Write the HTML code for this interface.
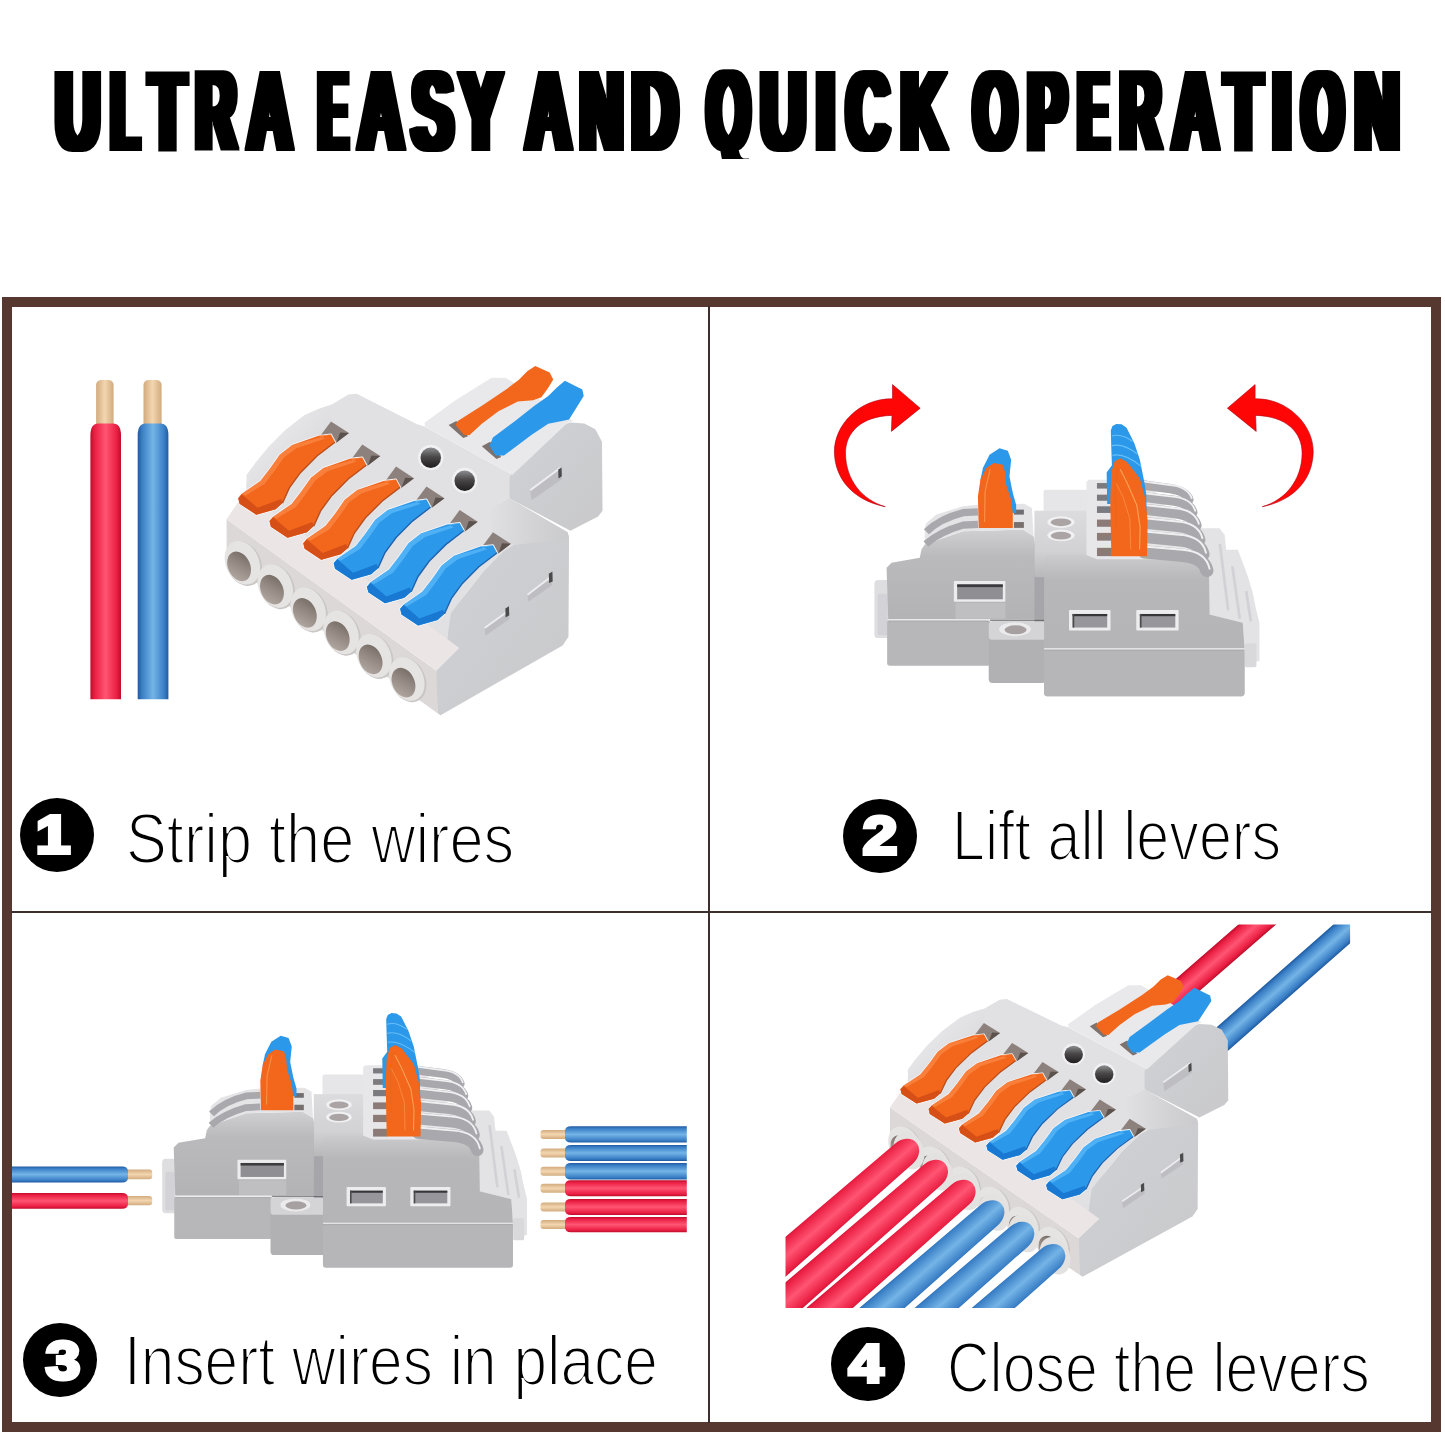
<!DOCTYPE html>
<html lang="en">
<head>
<meta charset="utf-8">
<title>Ultra easy and quick operation</title>
<style>
html,body{margin:0;padding:0;background:#fff;}
body{width:1445px;height:1445px;position:relative;overflow:hidden;font-family:"Liberation Sans",sans-serif;}
#title{position:absolute;left:0;top:0;width:1445px;height:220px;}
.frame{position:absolute;left:2px;top:297px;width:1419px;height:1115px;border:10px solid #573830;}
.vline{position:absolute;left:708px;top:306px;width:2px;height:1117px;background:#3d2f2e;}
.hline{position:absolute;left:11px;top:911px;width:1421px;height:2px;background:#3d2f2e;}
.num{position:absolute;width:74px;height:74px;border-radius:50%;background:#000;color:#fff;font-weight:bold;font-size:54px;line-height:74px;text-align:center;}
.num span{display:inline-block;position:relative;top:-1px;transform:scaleX(1.15);-webkit-text-stroke:4px #fff;}
.lbl{position:absolute;font-size:70px;line-height:70px;color:#000;white-space:nowrap;-webkit-text-stroke:2.2px #fff;transform-origin:0 0;}
#art{position:absolute;left:0;top:0;}
</style>
</head>
<body>
<svg id="art" width="1445" height="1445" viewBox="0 0 1445 1445">
<defs>
<linearGradient id="gRedV" x1="0" y1="0" x2="1" y2="0"><stop offset="0" stop-color="#bf0d2b"/><stop offset="0.14" stop-color="#ea1f43"/><stop offset="0.5" stop-color="#ff5573"/><stop offset="0.86" stop-color="#ea1f43"/><stop offset="1" stop-color="#bf0d2b"/></linearGradient>
<linearGradient id="gBlueV" x1="0" y1="0" x2="1" y2="0"><stop offset="0" stop-color="#1f5aa0"/><stop offset="0.14" stop-color="#3a7fc6"/><stop offset="0.5" stop-color="#74b4e6"/><stop offset="0.86" stop-color="#3a7fc6"/><stop offset="1" stop-color="#1f5aa0"/></linearGradient>
<linearGradient id="gCuV" x1="0" y1="0" x2="1" y2="0"><stop offset="0" stop-color="#d2ab7f"/><stop offset="0.5" stop-color="#f3d6b0"/><stop offset="1" stop-color="#d2ab7f"/></linearGradient>
<linearGradient id="gRedH" x1="0" y1="0" x2="0" y2="1"><stop offset="0" stop-color="#bf0d2b"/><stop offset="0.14" stop-color="#ea1f43"/><stop offset="0.5" stop-color="#ff5573"/><stop offset="0.86" stop-color="#ea1f43"/><stop offset="1" stop-color="#bf0d2b"/></linearGradient>
<linearGradient id="gBlueH" x1="0" y1="0" x2="0" y2="1"><stop offset="0" stop-color="#1f5aa0"/><stop offset="0.14" stop-color="#3a7fc6"/><stop offset="0.5" stop-color="#74b4e6"/><stop offset="0.86" stop-color="#3a7fc6"/><stop offset="1" stop-color="#1f5aa0"/></linearGradient>
<linearGradient id="gCuH" x1="0" y1="0" x2="0" y2="1"><stop offset="0" stop-color="#d2ab7f"/><stop offset="0.5" stop-color="#f3d6b0"/><stop offset="1" stop-color="#d2ab7f"/></linearGradient>
<linearGradient id="gWall" x1="0" y1="0" x2="1" y2="1"><stop offset="0" stop-color="#f0f0f2"/><stop offset="1" stop-color="#d2d2d5"/></linearGradient>
<linearGradient id="gSide" x1="0" y1="0" x2="1" y2="1"><stop offset="0" stop-color="#dadadd"/><stop offset="0.3" stop-color="#cecfd2"/><stop offset="1" stop-color="#c9c9cc"/></linearGradient>
<linearGradient id="gShoulder" x1="0" y1="0" x2="1" y2="0"><stop offset="0" stop-color="#e1e1e4"/><stop offset="0.6" stop-color="#d2d2d5"/><stop offset="1" stop-color="#cbcbce"/></linearGradient>
<linearGradient id="gHole" x1="0" y1="1" x2="1" y2="0"><stop offset="0" stop-color="#b9b0a9"/><stop offset="0.6" stop-color="#8f857e"/><stop offset="1" stop-color="#6b625c"/></linearGradient>
<linearGradient id="gScrew" x1="0" y1="0" x2="0" y2="1"><stop offset="0" stop-color="#8d8d90"/><stop offset="0.45" stop-color="#4a4848"/><stop offset="1" stop-color="#1f1d1d"/></linearGradient>

<g id="connA"><polygon points="60.0,575.0 822.0,1125.0 822.0,1276.0 60.0,727.0" fill="#dbd8d7" />
<polygon points="60.0,575.0 70.0,560.0 132.0,470.0 857.0,1000.0 900.0,1040.0 818.0,1122.0" fill="#ebe5e5" />
<polygon points="818.0,1122.0 900.0,1040.0 857.0,1008.0 857.0,918.0 920.0,850.0 990.0,760.0 1060.0,690.0 1100.0,665.0 1285.0,640.0 1292.0,622.0 1297.0,640.0 1295.0,1000.0 1274.0,1031.0 833.0,1283.0 822.0,1276.0" fill="url(#gSide)" />
<polygon points="440.0,161.0 500.0,125.0 530.0,122.0 748.0,232.0 775.0,240.0 1092.0,415.0 1082.0,500.0 1292.0,622.0 1285.0,640.0 1100.0,665.0 1060.0,690.0 990.0,760.0 920.0,850.0 870.0,915.0 857.0,1008.0 132.0,480.0 132.0,442.0" fill="#e1e1e4" />
<polygon points="1000.0,545.0 1082.0,500.0 1292.0,622.0 1297.0,645.0 1100.0,668.0 1087.0,664.0 1022.0,622.0" fill="url(#gShoulder)" />
<polygon points="132.0,442.0 132.0,415.0 165.0,370.0 210.0,315.0 270.0,255.0 340.0,200.0 395.0,175.0 440.0,161.0 435.0,220.0 400.0,274.0 300.0,345.0 215.0,415.0 150.0,465.0 132.0,480.0" fill="url(#gWall)" />
<polygon points="992.0,968.0 1080.0,905.0 1082.0,936.0 995.0,996.0" fill="#bebec2" /><polyline points="992.0,968.0 1080.0,905.0" fill="none" stroke="#ededf0" stroke-width="7"/><polygon points="1067.0,898.0 1080.0,890.0 1081.0,922.0 1068.0,930.0" fill="#4b4a4c" />
<polygon points="1147.0,848.0 1232.0,783.0 1237.0,813.0 1150.0,873.0" fill="#bebec2" /><polyline points="1147.0,848.0 1232.0,783.0" fill="none" stroke="#ededf0" stroke-width="7"/><polygon points="1224.0,772.0 1237.0,764.0 1238.0,800.0 1225.0,806.0" fill="#4b4a4c" />
<ellipse cx="122.0" cy="735.5" rx="62" ry="84" transform="rotate(-24 122.0 735.5)" fill="#c9c6c4"/>
<ellipse cx="117.0" cy="732.5" rx="60" ry="82" transform="rotate(-24 117.0 732.5)" fill="#e6e4e3"/>
<ellipse cx="240.8" cy="819.5" rx="62" ry="84" transform="rotate(-24 240.8 819.5)" fill="#c9c6c4"/>
<ellipse cx="235.8" cy="816.5" rx="60" ry="82" transform="rotate(-24 235.8 816.5)" fill="#e6e4e3"/>
<ellipse cx="359.6" cy="903.5" rx="62" ry="84" transform="rotate(-24 359.6 903.5)" fill="#c9c6c4"/>
<ellipse cx="354.6" cy="900.5" rx="60" ry="82" transform="rotate(-24 354.6 900.5)" fill="#e6e4e3"/>
<ellipse cx="478.4" cy="987.5" rx="62" ry="84" transform="rotate(-24 478.4 987.5)" fill="#c9c6c4"/>
<ellipse cx="473.4" cy="984.5" rx="60" ry="82" transform="rotate(-24 473.4 984.5)" fill="#e6e4e3"/>
<ellipse cx="597.2" cy="1071.5" rx="62" ry="84" transform="rotate(-24 597.2 1071.5)" fill="#c9c6c4"/>
<ellipse cx="592.2" cy="1068.5" rx="60" ry="82" transform="rotate(-24 592.2 1068.5)" fill="#e6e4e3"/>
<ellipse cx="716.0" cy="1155.5" rx="62" ry="84" transform="rotate(-24 716.0 1155.5)" fill="#c9c6c4"/>
<ellipse cx="711.0" cy="1152.5" rx="60" ry="82" transform="rotate(-24 711.0 1152.5)" fill="#e6e4e3"/>
<ellipse cx="105.0" cy="745.5" rx="40" ry="56" transform="rotate(-24 105.0 745.5)" fill="url(#gHole)"/>
<ellipse cx="223.8" cy="829.5" rx="40" ry="56" transform="rotate(-24 223.8 829.5)" fill="url(#gHole)"/>
<ellipse cx="342.6" cy="913.5" rx="40" ry="56" transform="rotate(-24 342.6 913.5)" fill="url(#gHole)"/>
<ellipse cx="461.4" cy="997.5" rx="40" ry="56" transform="rotate(-24 461.4 997.5)" fill="url(#gHole)"/>
<ellipse cx="580.2" cy="1081.5" rx="40" ry="56" transform="rotate(-24 580.2 1081.5)" fill="url(#gHole)"/>
<ellipse cx="699.0" cy="1165.5" rx="40" ry="56" transform="rotate(-24 699.0 1165.5)" fill="url(#gHole)"/>
<polygon points="437.0,222.0 502.0,264.0 455.0,300.0 400.0,272.0" fill="#8c817c" />
<polygon points="470.0,262.0 502.0,264.0 457.0,298.0" fill="#5b514d" />
<polygon points="392.0,274.0 437.0,269.0 452.0,297.0 387.0,347.0 327.0,407.0 287.0,462.0 262.0,517.0 237.0,539.0 167.0,559.0 107.0,519.0 102.0,499.0 114.0,484.0 182.0,437.0 217.0,392.0 252.0,342.0 297.0,307.0" fill="#f2671c" stroke="#f4f4f7" stroke-width="7" stroke-linejoin="round" paint-order="stroke"/>
<polygon points="392.0,274.0 437.0,269.0 297.0,307.0 252.0,342.0 217.0,392.0 182.0,437.0 114.0,484.0 127.0,490.0 197.0,448.0 232.0,402.0 267.0,352.0 312.0,319.0 417.0,284.0" fill="#ff9455" opacity="0.55"/>
<polygon points="102.0,499.0 107.0,519.0 167.0,559.0 237.0,539.0 262.0,517.0 257.0,502.0 172.0,534.0 115.0,485.0" fill="#d64f16" />
<polyline points="452.0,297.0 387.0,347.0 327.0,407.0 287.0,462.0 262.0,517.0" fill="none" stroke="#a63c0c" stroke-width="5" opacity="0.8"/>
<polygon points="550.0,305.0 615.0,347.0 568.0,383.0 513.0,355.0" fill="#8c817c" />
<polygon points="583.0,345.0 615.0,347.0 570.0,381.0" fill="#5b514d" />
<polygon points="505.0,357.0 550.0,352.0 565.0,380.0 500.0,430.0 440.0,490.0 400.0,545.0 375.0,600.0 350.0,622.0 280.0,642.0 220.0,602.0 215.0,582.0 227.0,567.0 295.0,520.0 330.0,475.0 365.0,425.0 410.0,390.0" fill="#f2671c" stroke="#f4f4f7" stroke-width="7" stroke-linejoin="round" paint-order="stroke"/>
<polygon points="505.0,357.0 550.0,352.0 410.0,390.0 365.0,425.0 330.0,475.0 295.0,520.0 227.0,567.0 240.0,573.0 310.0,531.0 345.0,485.0 380.0,435.0 425.0,402.0 530.0,367.0" fill="#ff9455" opacity="0.55"/>
<polygon points="215.0,582.0 220.0,602.0 280.0,642.0 350.0,622.0 375.0,600.0 370.0,585.0 285.0,617.0 228.0,568.0" fill="#d64f16" />
<polyline points="565.0,380.0 500.0,430.0 440.0,490.0 400.0,545.0 375.0,600.0" fill="none" stroke="#a63c0c" stroke-width="5" opacity="0.8"/>
<polygon points="672.0,385.0 737.0,427.0 690.0,463.0 635.0,435.0" fill="#8c817c" />
<polygon points="705.0,425.0 737.0,427.0 692.0,461.0" fill="#5b514d" />
<polygon points="627.0,437.0 672.0,432.0 687.0,460.0 622.0,510.0 562.0,570.0 522.0,625.0 497.0,680.0 472.0,702.0 402.0,722.0 342.0,682.0 337.0,662.0 349.0,647.0 417.0,600.0 452.0,555.0 487.0,505.0 532.0,470.0" fill="#f2671c" stroke="#f4f4f7" stroke-width="7" stroke-linejoin="round" paint-order="stroke"/>
<polygon points="627.0,437.0 672.0,432.0 532.0,470.0 487.0,505.0 452.0,555.0 417.0,600.0 349.0,647.0 362.0,653.0 432.0,611.0 467.0,565.0 502.0,515.0 547.0,482.0 652.0,447.0" fill="#ff9455" opacity="0.55"/>
<polygon points="337.0,662.0 342.0,682.0 402.0,722.0 472.0,702.0 497.0,680.0 492.0,665.0 407.0,697.0 350.0,648.0" fill="#d64f16" />
<polyline points="687.0,460.0 622.0,510.0 562.0,570.0 522.0,625.0 497.0,680.0" fill="none" stroke="#a63c0c" stroke-width="5" opacity="0.8"/>
<polygon points="782.0,457.0 847.0,499.0 800.0,535.0 745.0,507.0" fill="#8c817c" />
<polygon points="815.0,497.0 847.0,499.0 802.0,533.0" fill="#5b514d" />
<polygon points="737.0,509.0 782.0,504.0 797.0,532.0 732.0,582.0 672.0,642.0 632.0,697.0 607.0,752.0 582.0,774.0 512.0,794.0 452.0,754.0 447.0,734.0 459.0,719.0 527.0,672.0 562.0,627.0 597.0,577.0 642.0,542.0" fill="#2c98ea" stroke="#f4f4f7" stroke-width="7" stroke-linejoin="round" paint-order="stroke"/>
<polygon points="737.0,509.0 782.0,504.0 642.0,542.0 597.0,577.0 562.0,627.0 527.0,672.0 459.0,719.0 472.0,725.0 542.0,683.0 577.0,637.0 612.0,587.0 657.0,554.0 762.0,519.0" fill="#6cc6ff" opacity="0.55"/>
<polygon points="447.0,734.0 452.0,754.0 512.0,794.0 582.0,774.0 607.0,752.0 602.0,737.0 517.0,769.0 460.0,720.0" fill="#1878d2" />
<polyline points="797.0,532.0 732.0,582.0 672.0,642.0 632.0,697.0 607.0,752.0" fill="none" stroke="#0d4c98" stroke-width="5" opacity="0.8"/>
<polygon points="902.0,542.0 967.0,584.0 920.0,620.0 865.0,592.0" fill="#8c817c" />
<polygon points="935.0,582.0 967.0,584.0 922.0,618.0" fill="#5b514d" />
<polygon points="857.0,594.0 902.0,589.0 917.0,617.0 852.0,667.0 792.0,727.0 752.0,782.0 727.0,837.0 702.0,859.0 632.0,879.0 572.0,839.0 567.0,819.0 579.0,804.0 647.0,757.0 682.0,712.0 717.0,662.0 762.0,627.0" fill="#2c98ea" stroke="#f4f4f7" stroke-width="7" stroke-linejoin="round" paint-order="stroke"/>
<polygon points="857.0,594.0 902.0,589.0 762.0,627.0 717.0,662.0 682.0,712.0 647.0,757.0 579.0,804.0 592.0,810.0 662.0,768.0 697.0,722.0 732.0,672.0 777.0,639.0 882.0,604.0" fill="#6cc6ff" opacity="0.55"/>
<polygon points="567.0,819.0 572.0,839.0 632.0,879.0 702.0,859.0 727.0,837.0 722.0,822.0 637.0,854.0 580.0,805.0" fill="#1878d2" />
<polyline points="917.0,617.0 852.0,667.0 792.0,727.0 752.0,782.0 727.0,837.0" fill="none" stroke="#0d4c98" stroke-width="5" opacity="0.8"/>
<polygon points="1022.0,622.0 1087.0,664.0 1040.0,700.0 985.0,672.0" fill="#8c817c" />
<polygon points="1055.0,662.0 1087.0,664.0 1042.0,698.0" fill="#5b514d" />
<polygon points="977.0,674.0 1022.0,669.0 1037.0,697.0 972.0,747.0 912.0,807.0 872.0,862.0 847.0,917.0 822.0,939.0 752.0,959.0 692.0,919.0 687.0,899.0 699.0,884.0 767.0,837.0 802.0,792.0 837.0,742.0 882.0,707.0" fill="#2c98ea" stroke="#f4f4f7" stroke-width="7" stroke-linejoin="round" paint-order="stroke"/>
<polygon points="977.0,674.0 1022.0,669.0 882.0,707.0 837.0,742.0 802.0,792.0 767.0,837.0 699.0,884.0 712.0,890.0 782.0,848.0 817.0,802.0 852.0,752.0 897.0,719.0 1002.0,684.0" fill="#6cc6ff" opacity="0.55"/>
<polygon points="687.0,899.0 692.0,919.0 752.0,959.0 822.0,939.0 847.0,917.0 842.0,902.0 757.0,934.0 700.0,885.0" fill="#1878d2" />
<polyline points="1037.0,697.0 972.0,747.0 912.0,807.0 872.0,862.0 847.0,917.0" fill="none" stroke="#0d4c98" stroke-width="5" opacity="0.8"/>
<polygon points="1082.0,425.0 1102.0,380.0 1147.0,320.0 1202.0,270.0 1252.0,240.0 1302.0,226.0 1352.0,229.0 1392.0,250.0 1416.0,295.0 1418.0,545.0 1402.0,565.0 1302.0,617.0 1082.0,500.0" fill="url(#gSide)" />
<polygon points="775.0,227.0 887.0,145.0 1017.0,64.0 1067.0,64.0 1102.0,85.0 1312.0,220.0 1292.0,227.0 1092.0,415.0 777.0,240.0" fill="#e9e9ec" />
<polygon points="862.0,235.0 890.0,220.0 932.0,275.0 915.0,282.0" fill="#7d726d" />
<polygon points="982.0,312.0 1012.0,295.0 1052.0,350.0 1035.0,358.0" fill="#7d726d" />
<polygon points="887.0,235.0 895.0,220.0 982.0,165.0 1072.0,105.0 1117.0,70.0 1147.0,40.0 1175.0,22.0 1227.0,45.0 1240.0,70.0 1222.0,100.0 1197.0,135.0 1167.0,145.0 1112.0,150.0 1042.0,185.0 982.0,230.0 937.0,272.0 917.0,270.0" fill="#f2671c" />
<polygon points="1010.0,310.0 1022.0,280.0 1102.0,220.0 1172.0,165.0 1222.0,130.0 1252.0,100.0 1282.0,75.0 1345.0,107.0 1350.0,130.0 1322.0,175.0 1297.0,215.0 1272.0,220.0 1222.0,230.0 1162.0,270.0 1102.0,315.0 1062.0,345.0 1032.0,345.0" fill="#2c98ea" />
<polygon points="1157.0,470.0 1265.0,390.0 1272.0,430.0 1162.0,507.0" fill="#bebec2" /><polyline points="1157.0,470.0 1265.0,390.0" fill="none" stroke="#ededf0" stroke-width="7"/><polygon points="1258.0,396.0 1270.0,388.0 1271.0,420.0 1259.0,428.0" fill="#4b4a4c" />
<circle cx="797.5" cy="352.5" r="46" fill="#f1f1f3"/><circle cx="797.5" cy="353.5" r="37" fill="url(#gScrew)"/>
<circle cx="920.0" cy="435.0" r="46" fill="#f1f1f3"/><circle cx="920.0" cy="436.0" r="37" fill="url(#gScrew)"/></g>
<linearGradient id="gB1" x1="0" y1="0" x2="0" y2="1"><stop offset="0" stop-color="#d0d0d3"/><stop offset="0.3" stop-color="#bababd"/><stop offset="1" stop-color="#b3b3b6"/></linearGradient>
<linearGradient id="gB2" x1="0" y1="0" x2="0" y2="1"><stop offset="0" stop-color="#dcdcdf"/><stop offset="0.6" stop-color="#d2d2d5"/><stop offset="1" stop-color="#b8b8bb"/></linearGradient>
<linearGradient id="gB3" x1="0" y1="0" x2="0" y2="1"><stop offset="0" stop-color="#cbcbce"/><stop offset="0.18" stop-color="#b7b7ba"/><stop offset="1" stop-color="#b3b3b6"/></linearGradient>

<g id="connB"><polygon points="1221.0,463.0 1299.0,463.0 1317.0,487.0 1323.0,541.0 1365.0,541.0 1383.0,589.0 1401.0,637.0 1419.0,697.0 1431.0,757.0 1443.0,805.0 1443.0,943.0 1395.0,955.0 1389.0,900.0 1383.0,805.0 1263.0,775.0 1240.0,700.0" fill="#e3e3e6" />
<line x1="1300" y1="520" x2="1330" y2="760" stroke="#d2d2d6" stroke-width="10"/>
<line x1="1345" y1="600" x2="1372" y2="790" stroke="#d2d2d6" stroke-width="10"/>
<line x1="1395" y1="690" x2="1412" y2="800" stroke="#d2d2d6" stroke-width="10"/>
<rect x="1390.0" y="880.0" width="42.0" height="85.0" rx="6.0" fill="#d9d9dc" />
<rect x="52.0" y="650.0" width="58.0" height="210.0" rx="14.0" fill="#dedee1" />
<rect x="64.0" y="700.0" width="36.0" height="150.0" rx="8.0" fill="#d3d3d7" />
<rect x="98.0" y="796.0" width="372.0" height="164.0" rx="10.0" fill="#b7b7ba" />
<polygon points="114.0,588.0 216.0,570.0 222.0,540.0 234.0,522.0 372.0,474.0 588.0,468.0 627.0,492.0 636.0,528.0 642.0,794.0 102.0,794.0 96.0,606.0" fill="url(#gB1)" />
<polygon points="234.0,462.0 240.0,444.0 276.0,414.0 372.0,384.0 426.0,378.0 594.0,375.0 621.0,390.0 627.0,492.0 588.0,468.0 372.0,474.0 234.0,522.0" fill="#e4e4e7" />
<path d="M426 404 L372 407 Q288 428 240 476" fill="none" stroke="#a9a9ad" stroke-width="26"/>
<path d="M426 449 L372 452 Q288 476 238 520" fill="none" stroke="#a9a9ad" stroke-width="26"/>
<rect x="556.0" y="396.0" width="36.0" height="18.0" rx="0.0" fill="#6e6e73" />
<rect x="556.0" y="441.0" width="36.0" height="21.0" rx="0.0" fill="#77706e" />
<polygon points="435.0,288.0 444.0,246.0 468.0,198.0 504.0,174.0 534.0,183.0 546.0,216.0 540.0,276.0 552.0,336.0 564.0,378.0 564.0,408.0 552.0,408.0 456.0,348.0" fill="#2c98ea" />
<polygon points="429.0,462.0 426.0,348.0 435.0,288.0 456.0,246.0 483.0,228.0 516.0,234.0 525.0,264.0 528.0,306.0 546.0,360.0 552.0,408.0 552.0,462.0" fill="#f2671c" />
<path d="M470 250 L452 330 L450 440" fill="none" stroke="#ffb066" stroke-width="3" opacity="0.8"/>
<rect x="339.0" y="654.0" width="186.0" height="75.0" rx="3.0" fill="#ececef" />
<rect x="351.0" y="666.0" width="165.0" height="54.0" rx="0.0" fill="#8f8f93" />
<rect x="351.0" y="666.0" width="165.0" height="10.0" rx="0.0" fill="#3c3c3f" />
<rect x="345.0" y="733.0" width="180.0" height="57.0" rx="0.0" fill="#bfbfc2" />
<line x1="100" y1="794" x2="470" y2="794" stroke="#f3f3f5" stroke-width="4"/>
<line x1="100" y1="799" x2="470" y2="799" stroke="#a2a2a6" stroke-width="2"/>
<rect x="630.0" y="520.0" width="42.0" height="282.0" rx="0.0" fill="#a6a6aa" />
<rect x="465.0" y="800.0" width="207.0" height="222.0" rx="14.0" fill="#b1b1b4" />
<rect x="465.0" y="800.0" width="207.0" height="66.0" rx="12.0" fill="#d4d4d7" />
<ellipse cx="560" cy="828" rx="57" ry="25" fill="#ebebed"/><ellipse cx="562" cy="830" rx="40" ry="16" fill="#a6a1a0"/>
<line x1="470" y1="796" x2="672" y2="796" stroke="#55555a" stroke-width="3"/>
<rect x="663.0" y="324.0" width="159.0" height="86.0" rx="8.0" fill="#e6e6e9" />
<rect x="630.0" y="400.0" width="210.0" height="240.0" rx="0.0" fill="url(#gB2)" />
<ellipse cx="726" cy="441" rx="49" ry="21" fill="#f1f1f3"/><ellipse cx="726" cy="442" rx="37" ry="14" fill="#aaa5a4"/>
<ellipse cx="726" cy="489" rx="49" ry="21" fill="#f1f1f3"/><ellipse cx="726" cy="490" rx="37" ry="14" fill="#aaa5a4"/>
<polygon points="665.0,575.0 672.0,560.0 854.0,560.0 856.0,570.0 1248.0,570.0 1260.0,590.0 1263.0,775.0 1383.0,805.0 1389.0,895.0 1389.0,1060.0 1380.0,1070.0 675.0,1070.0 665.0,1060.0" fill="url(#gB3)" />
<rect x="665.0" y="905.0" width="724.0" height="165.0" rx="10.0" fill="#b6b6b9" />
<line x1="665" y1="899" x2="1389" y2="899" stroke="#f3f3f5" stroke-width="4"/>
<line x1="665" y1="904" x2="1389" y2="904" stroke="#a2a2a6" stroke-width="2"/>
<polygon points="818.0,296.0 826.0,288.0 1034.0,288.0 1250.0,575.0 856.0,575.0 818.0,560.0" fill="#e7e7ea" />
<rect x="856.0" y="300.0" width="54.0" height="20.0" rx="0.0" fill="#7a7a7f" />
<rect x="856.0" y="342.0" width="54.0" height="22.0" rx="0.0" fill="#7a7a7f" />
<rect x="856.0" y="384.0" width="54.0" height="24.0" rx="0.0" fill="#7a7a7f" />
<rect x="856.0" y="432.0" width="54.0" height="26.0" rx="0.0" fill="#8b7a76" />
<rect x="856.0" y="480.0" width="54.0" height="28.0" rx="0.0" fill="#8b7a76" />
<rect x="856.0" y="534.0" width="54.0" height="30.0" rx="0.0" fill="#8b7a76" />
<path d="M1028 308.0 L1120 320.0 Q1178 328.0 1188 360.0" fill="none" stroke="#a9a9ad" stroke-width="34" stroke-linecap="round"/>
<path d="M1028 295.0 L1120 307.0 Q1184 313.0 1198 354.0" fill="none" stroke="#f0f0f2" stroke-width="7" stroke-linecap="round"/>
<path d="M1028 351.0 L1129 363.0 Q1191 371.0 1201 406.0" fill="none" stroke="#a9a9ad" stroke-width="36" stroke-linecap="round"/>
<path d="M1028 337.0 L1129 349.0 Q1197 355.0 1211 400.0" fill="none" stroke="#f0f0f2" stroke-width="7" stroke-linecap="round"/>
<path d="M1028 395.0 L1138 407.0 Q1204 415.0 1214 453.0" fill="none" stroke="#a9a9ad" stroke-width="40" stroke-linecap="round"/>
<path d="M1028 379.0 L1138 391.0 Q1210 397.0 1224 447.0" fill="none" stroke="#f0f0f2" stroke-width="7" stroke-linecap="round"/>
<path d="M1028 444.0 L1147 456.0 Q1217 464.0 1227 505.0" fill="none" stroke="#a9a9ad" stroke-width="42" stroke-linecap="round"/>
<path d="M1028 427.0 L1147 439.0 Q1223 445.0 1237 499.0" fill="none" stroke="#f0f0f2" stroke-width="7" stroke-linecap="round"/>
<path d="M1028 494.0 L1156 506.0 Q1230 514.0 1240 558.0" fill="none" stroke="#a9a9ad" stroke-width="46" stroke-linecap="round"/>
<path d="M1028 475.0 L1156 487.0 Q1236 493.0 1250 552.0" fill="none" stroke="#f0f0f2" stroke-width="7" stroke-linecap="round"/>
<path d="M1028 549.0 L1165 561.0 Q1243 569.0 1253 616.0" fill="none" stroke="#a9a9ad" stroke-width="48" stroke-linecap="round"/>
<path d="M1028 529.0 L1165 541.0 Q1249 547.0 1263 610.0" fill="none" stroke="#f0f0f2" stroke-width="7" stroke-linecap="round"/>
<polygon points="893.0,376.0 891.0,262.0 910.0,236.0 908.0,180.0 906.0,110.0 912.0,94.0 926.0,87.0 945.0,88.0 963.0,100.0 991.0,156.0 1011.0,216.0 1027.0,296.0 1034.0,340.0 1036.0,420.0 960.0,230.0 920.0,236.0 908.0,376.0" fill="#2c98ea" />
<path d="M910 130 Q945 120 985 150" fill="none" stroke="#7fd0ff" stroke-width="4" opacity="0.7"/>
<path d="M910 165 Q950 155 1002 195" fill="none" stroke="#7fd0ff" stroke-width="4" opacity="0.7"/>
<path d="M912 200 Q955 190 1016 240" fill="none" stroke="#7fd0ff" stroke-width="4" opacity="0.7"/>
<polygon points="908.0,564.0 904.0,360.0 908.0,260.0 920.0,222.0 940.0,210.0 965.0,224.0 1011.0,284.0 1031.0,356.0 1039.0,436.0 1037.0,564.0" fill="#f2671c" />
<path d="M940 250 L965 300 L1000 380 L1012 460 L1010 540" fill="none" stroke="#ffab5e" stroke-width="4" opacity="0.85"/><path d="M925 300 L950 350 L975 430 L978 540" fill="none" stroke="#ffab5e" stroke-width="3" opacity="0.6"/>
<path d="M930 240 L922 330 L925 470" fill="none" stroke="#e0661a" stroke-width="3" opacity="0.7"/>
<rect x="755.0" y="759.0" width="150.0" height="74.0" rx="3.0" fill="#ededf0" />
<rect x="768.0" y="773.0" width="125.0" height="49.0" rx="0.0" fill="#97979b" />
<rect x="768.0" y="773.0" width="125.0" height="8.0" rx="0.0" fill="#363638" />
<rect x="768.0" y="773.0" width="6.0" height="49.0" rx="0.0" fill="#4a4a4d" />
<rect x="998.0" y="759.0" width="153.0" height="74.0" rx="3.0" fill="#ededf0" />
<rect x="1011.0" y="773.0" width="128.0" height="49.0" rx="0.0" fill="#97979b" />
<rect x="1011.0" y="773.0" width="128.0" height="8.0" rx="0.0" fill="#363638" />
<rect x="1011.0" y="773.0" width="6.0" height="49.0" rx="0.0" fill="#4a4a4d" /></g>
</defs>
<rect x="96.1" y="380.0" width="17.5" height="51.5" rx="5" fill="url(#gCuV)"/><path d="M90.4 699.3 L90.4 435.5 Q90.4 423.5 98.4 423.5 L113.0 423.5 Q121.0 423.5 121.0 435.5 L121.0 699.3 Z" fill="url(#gRedV)"/>
<rect x="143.5" y="380.0" width="18.1" height="51.5" rx="5" fill="url(#gCuV)"/><path d="M137.7 699.3 L137.7 435.5 Q137.7 423.5 145.7 423.5 L160.4 423.5 Q168.4 423.5 168.4 435.5 L168.4 699.3 Z" fill="url(#gBlueV)"/>
<use href="#connA" transform="translate(210,360) scale(0.27682)"/>
<use href="#connB" transform="translate(860,400) scale(0.27682)"/>
<path id="arrowL" d="M892.5 398.8 C860 398 834 425 834.4 452 C834.8 478 852 500 885.3 506.7 C862 500 846 480 845.5 454 C845 432 862 416 892 415.4 L891.4 431.4 L920.2 408.2 L892.5 384.6 Z" fill="#fe0606" stroke="#b00010" stroke-width="0.6"/>
<use href="#arrowL" transform="translate(2147.6,0) scale(-1,1)"/>
<use href="#connB" transform="matrix(0.9476 0 0 0.935 -666.4 616.6) translate(860,400) scale(0.27682)"/>
<rect x="120" y="1169.5" width="32.2" height="9.7" rx="3" fill="url(#gCuH)"/><path d="M12 1166.4 L122 1166.4 Q128 1166.4 128 1171.4 L128 1177.4 Q128 1182.4 122 1182.4 L12 1182.4 Z" fill="url(#gBlueH)"/>
<rect x="120" y="1195.9" width="32.2" height="9.3" rx="3" fill="url(#gCuH)"/><path d="M12 1193.0 L122 1193.0 Q128 1193.0 128 1198.0 L128 1203.7 Q128 1208.7 122 1208.7 L12 1208.7 Z" fill="url(#gRedH)"/>
<rect x="540.5" y="1129.9" width="32" height="9" rx="3" fill="url(#gCuH)"/>
<path d="M686.8 1126.3 L571 1126.3 Q565 1126.3 565 1131.3 L565 1137.6 Q565 1142.6 571 1142.6 L686.8 1142.6 Z" fill="url(#gBlueH)"/>
<rect x="540.5" y="1148.5" width="32" height="9" rx="3" fill="url(#gCuH)"/>
<path d="M686.8 1145.0 L571 1145.0 Q565 1145.0 565 1150.0 L565 1155.9 Q565 1160.9 571 1160.9 L686.8 1160.9 Z" fill="url(#gBlueH)"/>
<rect x="540.5" y="1166.8" width="32" height="9" rx="3" fill="url(#gCuH)"/>
<path d="M686.8 1163.0 L571 1163.0 Q565 1163.0 565 1168.0 L565 1174.6 Q565 1179.6 571 1179.6 L686.8 1179.6 Z" fill="url(#gBlueH)"/>
<rect x="540.5" y="1183.8" width="32" height="9" rx="3" fill="url(#gCuH)"/>
<path d="M686.8 1180.3 L571 1180.3 Q565 1180.3 565 1185.3 L565 1191.2 Q565 1196.2 571 1196.2 L686.8 1196.2 Z" fill="url(#gRedH)"/>
<rect x="540.5" y="1202.5" width="32" height="9" rx="3" fill="url(#gCuH)"/>
<path d="M686.8 1199.0 L571 1199.0 Q565 1199.0 565 1204.0 L565 1209.9 Q565 1214.9 571 1214.9 L686.8 1214.9 Z" fill="url(#gRedH)"/>
<rect x="540.5" y="1220.1" width="32" height="9" rx="3" fill="url(#gCuH)"/>
<path d="M686.8 1217.0 L571 1217.0 Q565 1217.0 565 1222.0 L565 1227.2 Q565 1232.2 571 1232.2 L686.8 1232.2 Z" fill="url(#gRedH)"/>
<clipPath id="clip4"><rect x="785.5" y="924.6" width="564.6" height="383.5"/></clipPath>
<g clip-path="url(#clip4)">
<g transform="translate(1189.8,983.1) rotate(-41.00)"><path d="M-25.0 -12.4 L260.0 -12.4 L260.0 12.4 L-25.0 12.4 A12.4 9.9 0 0 1 -25.0 -12.4 Z" fill="url(#gRedH)"/></g>
<g transform="translate(1225.5,1036.2) rotate(-41.35)"><path d="M-25.0 -12.6 L260.0 -12.6 L260.0 12.6 L-25.0 12.6 A12.6 10.0 0 0 1 -25.0 -12.6 Z" fill="url(#gBlueH)"/></g>
<use href="#connA" transform="translate(880,950) scale(0.24913) translate(-20,80) scale(1,0.96)"/>
<ellipse cx="909.0" cy="1150.6" rx="14.5" ry="19.5" transform="rotate(-24 909.0 1150.6)" fill="#e4e2e0"/>
<ellipse cx="937.8" cy="1171.6" rx="14.5" ry="19.5" transform="rotate(-24 937.8 1171.6)" fill="#e4e2e0"/>
<ellipse cx="965.4" cy="1191.5" rx="14.5" ry="19.5" transform="rotate(-24 965.4 1191.5)" fill="#e4e2e0"/>
<ellipse cx="994.2" cy="1212.1" rx="14.5" ry="19.5" transform="rotate(-24 994.2 1212.1)" fill="#e4e2e0"/>
<ellipse cx="1024.1" cy="1233.6" rx="14.5" ry="19.5" transform="rotate(-24 1024.1 1233.6)" fill="#e4e2e0"/>
<ellipse cx="1055.1" cy="1255.8" rx="14.5" ry="19.5" transform="rotate(-24 1055.1 1255.8)" fill="#e4e2e0"/>
<g transform="translate(904.0,1153.6) rotate(139.00)"><path d="M0.0 -13.3 L400.0 -17.8 L400.0 17.8 L0.0 13.3 A13.3 10.7 0 0 1 0.0 -13.3 Z" fill="url(#gRedH)"/></g>
<g transform="translate(932.8,1174.6) rotate(139.00)"><path d="M0.0 -13.3 L400.0 -17.8 L400.0 17.8 L0.0 13.3 A13.3 10.7 0 0 1 0.0 -13.3 Z" fill="url(#gRedH)"/></g>
<g transform="translate(960.4,1194.5) rotate(139.00)"><path d="M0.0 -13.3 L400.0 -17.8 L400.0 17.8 L0.0 13.3 A13.3 10.7 0 0 1 0.0 -13.3 Z" fill="url(#gRedH)"/></g>
<g transform="translate(989.2,1215.1) rotate(139.00)"><path d="M0.0 -13.3 L400.0 -17.8 L400.0 17.8 L0.0 13.3 A13.3 10.7 0 0 1 0.0 -13.3 Z" fill="url(#gBlueH)"/></g>
<g transform="translate(1019.1,1236.6) rotate(139.00)"><path d="M0.0 -13.3 L400.0 -17.8 L400.0 17.8 L0.0 13.3 A13.3 10.7 0 0 1 0.0 -13.3 Z" fill="url(#gBlueH)"/></g>
<g transform="translate(1050.1,1258.8) rotate(139.00)"><path d="M0.0 -13.3 L400.0 -17.8 L400.0 17.8 L0.0 13.3 A13.3 10.7 0 0 1 0.0 -13.3 Z" fill="url(#gBlueH)"/></g>
</g>
</svg>
<div class="frame"></div>
<div class="vline"></div>
<div class="hline"></div>
<svg id="title" viewBox="0 0 1445 220">
<defs><clipPath id="tclip"><rect x="0" y="0" width="1445" height="159"/></clipPath><filter id="fat" x="-2%" y="-20%" width="104%" height="150%"><feMorphology operator="dilate" radius="5 1"/></filter></defs>
<g clip-path="url(#tclip)"><g filter="url(#fat)"><text transform="translate(0,149.5) scale(0.58,1.126)" y="0" font-family="Liberation Sans, sans-serif" font-weight="bold" font-size="100" fill="#000" xml:space="preserve"><tspan x="96.3" textLength="76.02" lengthAdjust="spacingAndGlyphs">U</tspan><tspan x="192.3" textLength="46.38" lengthAdjust="spacingAndGlyphs">L</tspan><tspan x="258.0" textLength="61.17" lengthAdjust="spacingAndGlyphs">T</tspan><tspan x="338.0" textLength="68.65" lengthAdjust="spacingAndGlyphs">R</tspan><tspan x="427.6" textLength="75.16" lengthAdjust="spacingAndGlyphs">A</tspan> <tspan x="550.1" textLength="48.37" lengthAdjust="spacingAndGlyphs">E</tspan><tspan x="618.6" textLength="76.65" lengthAdjust="spacingAndGlyphs">A</tspan><tspan x="710.9" textLength="70.25" lengthAdjust="spacingAndGlyphs">S</tspan><tspan x="793.7" textLength="70.95" lengthAdjust="spacingAndGlyphs">Y</tspan> <tspan x="907.5" textLength="76.28" lengthAdjust="spacingAndGlyphs">A</tspan><tspan x="1000.0" textLength="74.13" lengthAdjust="spacingAndGlyphs">N</tspan><tspan x="1089.4" textLength="79.38" lengthAdjust="spacingAndGlyphs">D</tspan> <tspan x="1219.6" textLength="73.15" lengthAdjust="spacingAndGlyphs">Q</tspan><tspan x="1311.5" textLength="77.47" lengthAdjust="spacingAndGlyphs">U</tspan><tspan x="1406.7" textLength="32.92" lengthAdjust="spacingAndGlyphs">I</tspan><tspan x="1459.9" textLength="72.18" lengthAdjust="spacingAndGlyphs">C</tspan><tspan x="1553.6" textLength="76.71" lengthAdjust="spacingAndGlyphs">K</tspan> <tspan x="1679.1" textLength="73.54" lengthAdjust="spacingAndGlyphs">O</tspan><tspan x="1772.1" textLength="66.65" lengthAdjust="spacingAndGlyphs">P</tspan><tspan x="1859.6" textLength="50.83" lengthAdjust="spacingAndGlyphs">E</tspan><tspan x="1931.5" textLength="69.63" lengthAdjust="spacingAndGlyphs">R</tspan><tspan x="2021.8" textLength="77.58" lengthAdjust="spacingAndGlyphs">A</tspan><tspan x="2112.6" textLength="62.60" lengthAdjust="spacingAndGlyphs">T</tspan><tspan x="2193.7" textLength="33.26" lengthAdjust="spacingAndGlyphs">I</tspan><tspan x="2244.9" textLength="71.22" lengthAdjust="spacingAndGlyphs">O</tspan><tspan x="2336.0" textLength="76.25" lengthAdjust="spacingAndGlyphs">N</tspan></text></g></g>
</svg>
<div class="num" style="left:19.5px;top:798px;"><span style="left:-3px">1</span></div>
<div class="lbl" id="l1" style="left:125.9px;top:804.15px;transform:scaleX(0.8754);">Strip the wires</div>
<div class="num" style="left:842.7px;top:799.4px;"><span>2</span></div>
<div class="lbl" id="l2" style="left:952.4px;top:800.75px;transform:scaleX(0.8461);">Lift all levers</div>
<div class="num" style="left:22.9px;top:1322.9px;"><span style="left:3.5px;top:0.5px">3</span></div>
<div class="lbl" id="l3" style="left:124.3px;top:1325.95px;transform:scaleX(0.8631);">Insert wires in place</div>
<div class="num" style="left:830.8px;top:1326.5px;"><span style="left:-2px">4</span></div>
<div class="lbl" id="l4" style="left:947.4px;top:1333.35px;transform:scaleX(0.8423);">Close the levers</div>

</body>
</html>
